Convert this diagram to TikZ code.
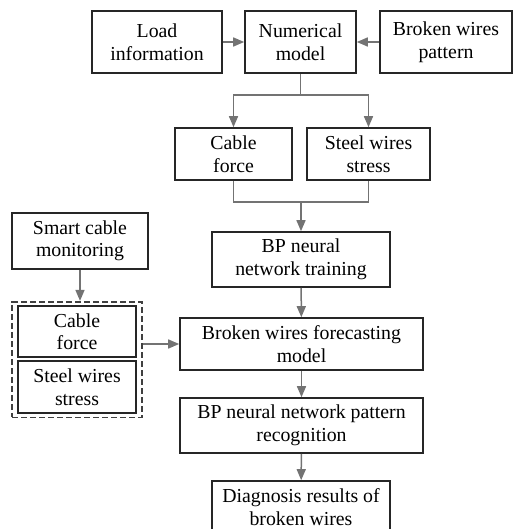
\documentclass[tikz,border=0pt]{standalone}
\usepackage{fontspec}
\setmainfont{Liberation Serif}
\usepackage{tikz}
\usetikzlibrary{arrows.meta,fit}

\tikzset{
    box/.style = {draw = black!85, line width = 1.6pt, align = center, inner sep = 0pt,
                  font = \fontsize{19.8}{22.5}\selectfont},
    flow/.style = {draw = black!55, line width = 1.5pt, -{Triangle[length = 11pt, width = 9pt]}},
    link/.style = {draw = black!55, line width = 1.5pt}
}

\begin{document}
\begin{tikzpicture}[x = 1pt, y = -1pt]
                \useasboundingbox (0,0) rectangle (513,529);

                \node [box, minimum width = 130pt, minimum height = 62pt] (load) at (157,42) {Load\\information};
                \node [box, minimum width = 111pt, minimum height = 62pt] (num) at (300.5,42) {Numerical\\model};
                \node [box, minimum width = 132pt, minimum height = 62pt] (pattern) at (446,42) {Broken wires\\pattern};

                \node [box, minimum width = 117pt, minimum height = 52pt] (forceA) at (233.5,154) {Cable\\force};
                \node [box, minimum width = 123pt, minimum height = 52pt] (stressA) at (368.5,154) {Steel wires\\stress};

                \node [box, minimum width = 178pt, minimum height = 55pt] (train) at (301,259.5) {BP neural\\network training};
                \node [box, minimum width = 136pt, minimum height = 56pt] (smart) at (80,241) {Smart cable\\monitoring};

                \node [box, minimum width = 118pt, minimum height = 51pt] (forceB) at (77,331.5) {Cable\\force};
                \node [box, minimum width = 118pt, minimum height = 52pt] (stressB) at (77,387) {Steel wires\\stress};
                \node [draw = black!75, line width = 1.6pt, dash pattern = on 6pt off 3pt,
                       inner xsep = 5pt, inner ysep = 3.5pt, fit = (forceB) (stressB)] (measured) {};

                \node [box, minimum width = 243pt, minimum height = 52pt] (forecast) at (301.5,344) {Broken wires forecasting\\model};
                \node [box, minimum width = 243pt, minimum height = 55pt] (recog) at (301.5,425.5) {BP neural network pattern\\recognition};
                \node [box, minimum width = 178pt, minimum height = 52pt] (diag) at (301,507) {Diagnosis results of\\broken wires};

                \coordinate (split) at (300.5,95);
                \coordinate (merge) at (301,202);

                \path [flow] (load) -- (num);
                \path [flow] (pattern) -- (num);
                \path [link] (num.south) -- (split);
                \path [flow] (split) -| (forceA.north);
                \path [flow] (split) -| (stressA.north);
                \path [link] (forceA.south) |- (merge);
                \path [link] (stressA.south) |- (merge);
                \path [flow] (merge) -- (train.north);
                \path [flow] (smart.south) -- (smart.south |- measured.north);
                \path [flow] (measured.east |- forecast) -- (forecast.west);
                \path [flow] (train) -- (forecast);
                \path [flow] (forecast) -- (recog);
                \path [flow] (recog) -- (diag);
            \end{tikzpicture}
\end{document}
